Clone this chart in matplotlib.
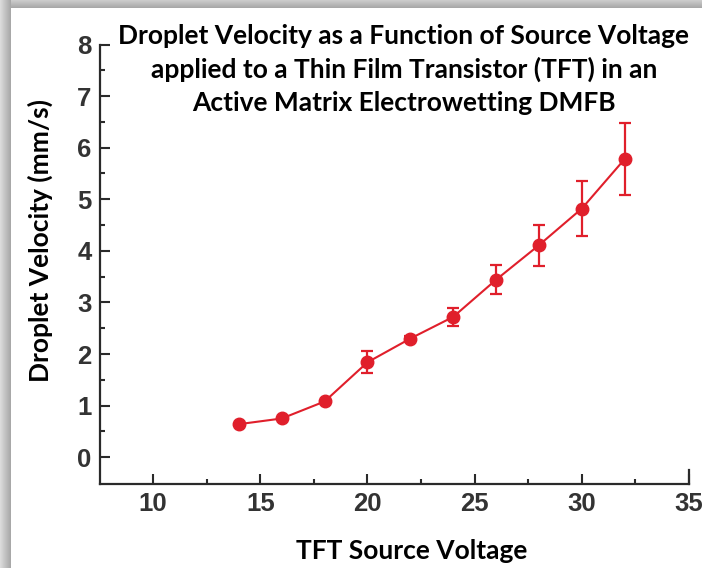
import numpy as np
import matplotlib
matplotlib.use("Agg")
import matplotlib.pyplot as plt

# Droplet velocity measurements vs. TFT source voltage
voltage = [14, 16, 18, 20, 22, 24, 26, 28, 30, 32]
velocity = [0.64, 0.75, 1.08, 1.84, 2.30, 2.72, 3.44, 4.11, 4.82, 5.78]
velocity_err = [0.0, 0.0, 0.0, 0.21, 0.05, 0.17, 0.28, 0.40, 0.54, 0.69]

x_ticks = [10, 15, 20, 25, 30, 35]
y_ticks = [0, 1, 2, 3, 4, 5, 6, 7, 8]

title_lines = [
    "Droplet Velocity as a Function of Source Voltage",
    "applied to a Thin Film Transistor (TFT) in an",
    "Active Matrix Electrowetting DMFB",
]
x_label = "TFT Source Voltage"
y_label = "Droplet Velocity (mm/s)"

W, H = 702, 568
fig = plt.figure(figsize=(W / 100, H / 100), dpi=100)
fig.patch.set_facecolor("white")

# Panel shadow along the top and left edges
bg = fig.add_axes([0, 0, 1, 1], zorder=-5)
bg.axis("off")
top = np.linspace(0.80, 0.66, 8)[:, None] * np.ones((1, 10))
bg.imshow(np.dstack([top] * 3), extent=(0, W, 8, 0), aspect="auto",
          interpolation="bilinear", vmin=0, vmax=1)
left = np.ones((10, 1)) * np.linspace(0.86, 0.66, 11)[None, :]
bg.imshow(np.dstack([left] * 3), extent=(0, 11, H, 0), aspect="auto",
          interpolation="bilinear", vmin=0, vmax=1)
bg.set_xlim(0, W)
bg.set_ylim(H, 0)

ax = fig.add_axes([100 / W, 1 - 484 / H, 589 / W, (484 - 44.5) / H])
ax.set_xlim(7.52, 35)
ax.set_ylim(-0.52, 8)

red = "#e01f2b"
ax.errorbar(voltage, velocity, yerr=velocity_err, color=red, marker="o",
            markersize=9, linewidth=1.5, elinewidth=1.6, capsize=4.5,
            capthick=1.6, clip_on=False, zorder=3)

ax.spines["top"].set_visible(False)
ax.spines["right"].set_bounds(-0.52, -0.25)
for side in ("left", "bottom", "right"):
    ax.spines[side].set_linewidth(1.6)
    ax.spines[side].set_color("#2a2a2a")

ax.set_xticks(x_ticks)
ax.set_yticks(y_ticks)
ax.set_xticks(np.arange(12.5, 35, 5), minor=True)
ax.set_yticks(np.arange(0.5, 8, 1), minor=True)
ax.tick_params(which="major", direction="in", length=7, width=1.5,
               color="#2a2a2a", labelsize=18.5, labelcolor="#333333", pad=6)
ax.tick_params(which="minor", direction="in", length=3.5, width=1.5,
               color="#2a2a2a")
ax.tick_params(axis="y", pad=6)
for lab in ax.get_xticklabels() + ax.get_yticklabels():
    lab.set_fontfamily("Liberation Sans")
    lab.set_fontweight("bold")

txt = dict(family="Lato", fontweight="bold", fontsize=19, color="black")
for i, line in enumerate(title_lines):
    fig.text(404 / W, 1 - (36 + 33.5 * i) / H, line, ha="center", va="center", **txt)
fig.text(412 / W, 1 - 551 / H, x_label, ha="center", va="center", **txt)
fig.text(40 / W, 1 - 240 / H, y_label, ha="center", va="center", rotation=90, **txt)

fig.savefig("out.png", dpi=100)
